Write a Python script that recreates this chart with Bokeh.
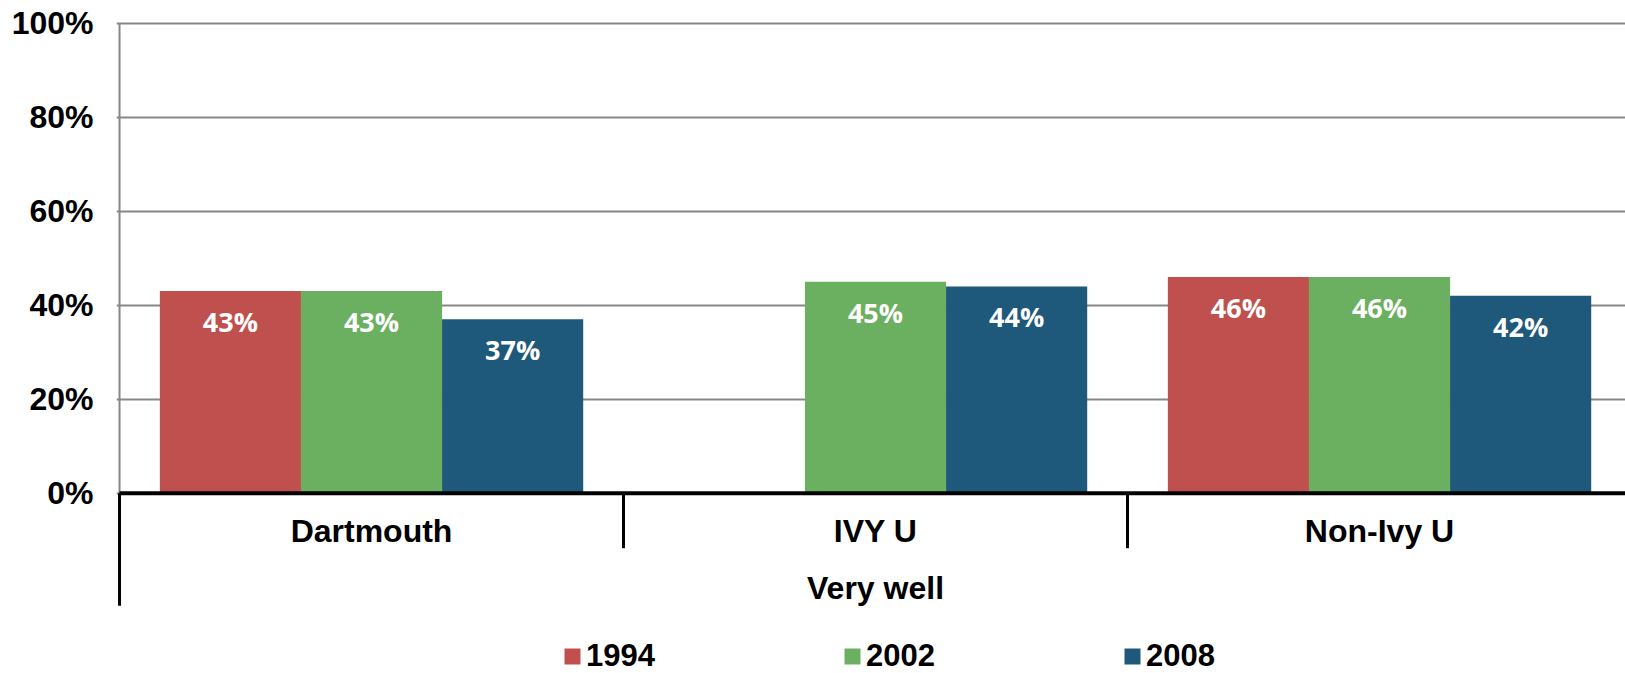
import math
from bokeh.plotting import figure
from bokeh.models import (ColumnDataSource, Range1d, FixedTicker, PrintfTickFormatter,
                          Legend, LegendItem)
from bokeh.core.properties import value
from bokeh.embed import file_html
from bokeh.resources import INLINE

# ---------------- data ----------------
categories = ["Dartmouth", "IVY U", "Non-Ivy U"]
group_label = "Very well"
years = ["1994", "2002", "2008"]
values_1994 = [43, None, 46]
values_2002 = [43, 45, 46]
values_2008 = [37, 44, 42]
y_ticks = [0, 20, 40, 60, 80, 100]

# ---------------- style ----------------
colors = ["#C0504D", "#6BB060", "#1E587A"]
BAR_W = 0.28
offsets = [-BAR_W, 0.0, BAR_W]
AXIS_FONT = "Liberation Sans"
LABEL_FONT = "Open Sans"
PX_Y = 4.7  # pixels per y unit
PX_X = 504  # pixels per category

series = [values_1994, values_2002, values_2008]
ncat = len(categories)

FRAME_W = 1509
FRAME_H = 655
X0 = -0.006

p = figure(frame_width=FRAME_W, frame_height=FRAME_H,
           min_border_left=116, min_border_right=0,
           min_border_top=18, min_border_bottom=0,
           x_range=Range1d(X0, X0 + FRAME_W / PX_X),
           y_range=Range1d(101 - FRAME_H / PX_Y, 101),
           output_backend="svg", toolbar_location=None)
p.outline_line_color = None
p.background_fill_color = "white"
p.border_fill_color = "white"
p.xaxis.visible = False
p.xgrid.visible = False

# y axis
p.yaxis.ticker = FixedTicker(ticks=y_ticks)
p.yaxis.formatter = PrintfTickFormatter(format="%d%%")
p.yaxis.axis_line_color = None
p.yaxis.major_tick_line_color = None
p.yaxis.minor_tick_line_color = None
p.yaxis.major_label_text_font = AXIS_FONT
p.yaxis.major_label_text_font_style = "bold"
p.yaxis.major_label_text_font_size = "32px"
p.yaxis.major_label_text_color = "black"
p.yaxis.major_label_standoff = 17

p.ygrid.ticker = FixedTicker(ticks=y_ticks)
p.ygrid.grid_line_color = "#878787"
p.ygrid.grid_line_width = 2

# gray vertical value axis line (0..100)
p.segment(x0=[0], y0=[y_ticks[0]], x1=[0], y1=[y_ticks[-1]],
          line_color="#878787", line_width=2)

# bars and labels
renderers = []
for vals, color, off in zip(series, colors, offsets):
    xs = [i + 0.5 + off for i in range(ncat)]
    tops = [v if v is not None else float("nan") for v in vals]
    src = ColumnDataSource(dict(x=xs, top=tops))
    r = p.vbar(x="x", top="top", bottom=0, width=BAR_W, source=src,
               fill_color=color, line_color=None)
    renderers.append(r)
    lx = [x for x, v in zip(xs, vals) if v is not None]
    ly = [v - 6.5 for v in vals if v is not None]
    lt = [f"{v}%" for v in vals if v is not None]
    p.text(x=lx, y=ly, text=lt, text_font=value(LABEL_FONT),
           text_font_style="bold", text_font_size="27px", text_color="white",
           text_align="center", text_baseline="middle")

# category axis (multi-level) lines
p.segment(x0=[0], y0=[0], x1=[ncat], y1=[0], line_color="black", line_width=4)
p.segment(x0=list(range(1, ncat + 1)), y0=[0] * ncat,
          x1=list(range(1, ncat + 1)), y1=[-55 / PX_Y] * ncat,
          line_color="black", line_width=3)
p.segment(x0=[0], y0=[0], x1=[0], y1=[-112.5 / PX_Y],
          line_color="black", line_width=3)

# category labels
p.text(x=[i + 0.5 for i in range(ncat)], y=[-37.8 / PX_Y] * ncat, text=categories,
       text_font=value(AXIS_FONT), text_font_style="bold", text_font_size="32px",
       text_color="black", text_align="center", text_baseline="middle")
p.text(x=[ncat / 2], y=[-94.3 / PX_Y], text=[group_label],
       text_font=value(AXIS_FONT), text_font_style="bold", text_font_size="32px",
       text_color="black", text_align="center", text_baseline="middle")

# legend
legend = Legend(items=[LegendItem(label=y, renderers=[r]) for y, r in zip(years, renderers)],
                orientation="horizontal", location=(446, -1),
                glyph_width=20, glyph_height=20, label_standoff=4,
                spacing=187, padding=0, margin=0,
                background_fill_alpha=0, border_line_color=None,
                label_text_font=AXIS_FONT, label_text_font_style="bold",
                label_text_font_size="31px", label_text_color="black")
p.add_layout(legend)

open("out.html", "w").write(file_html(p, INLINE))
